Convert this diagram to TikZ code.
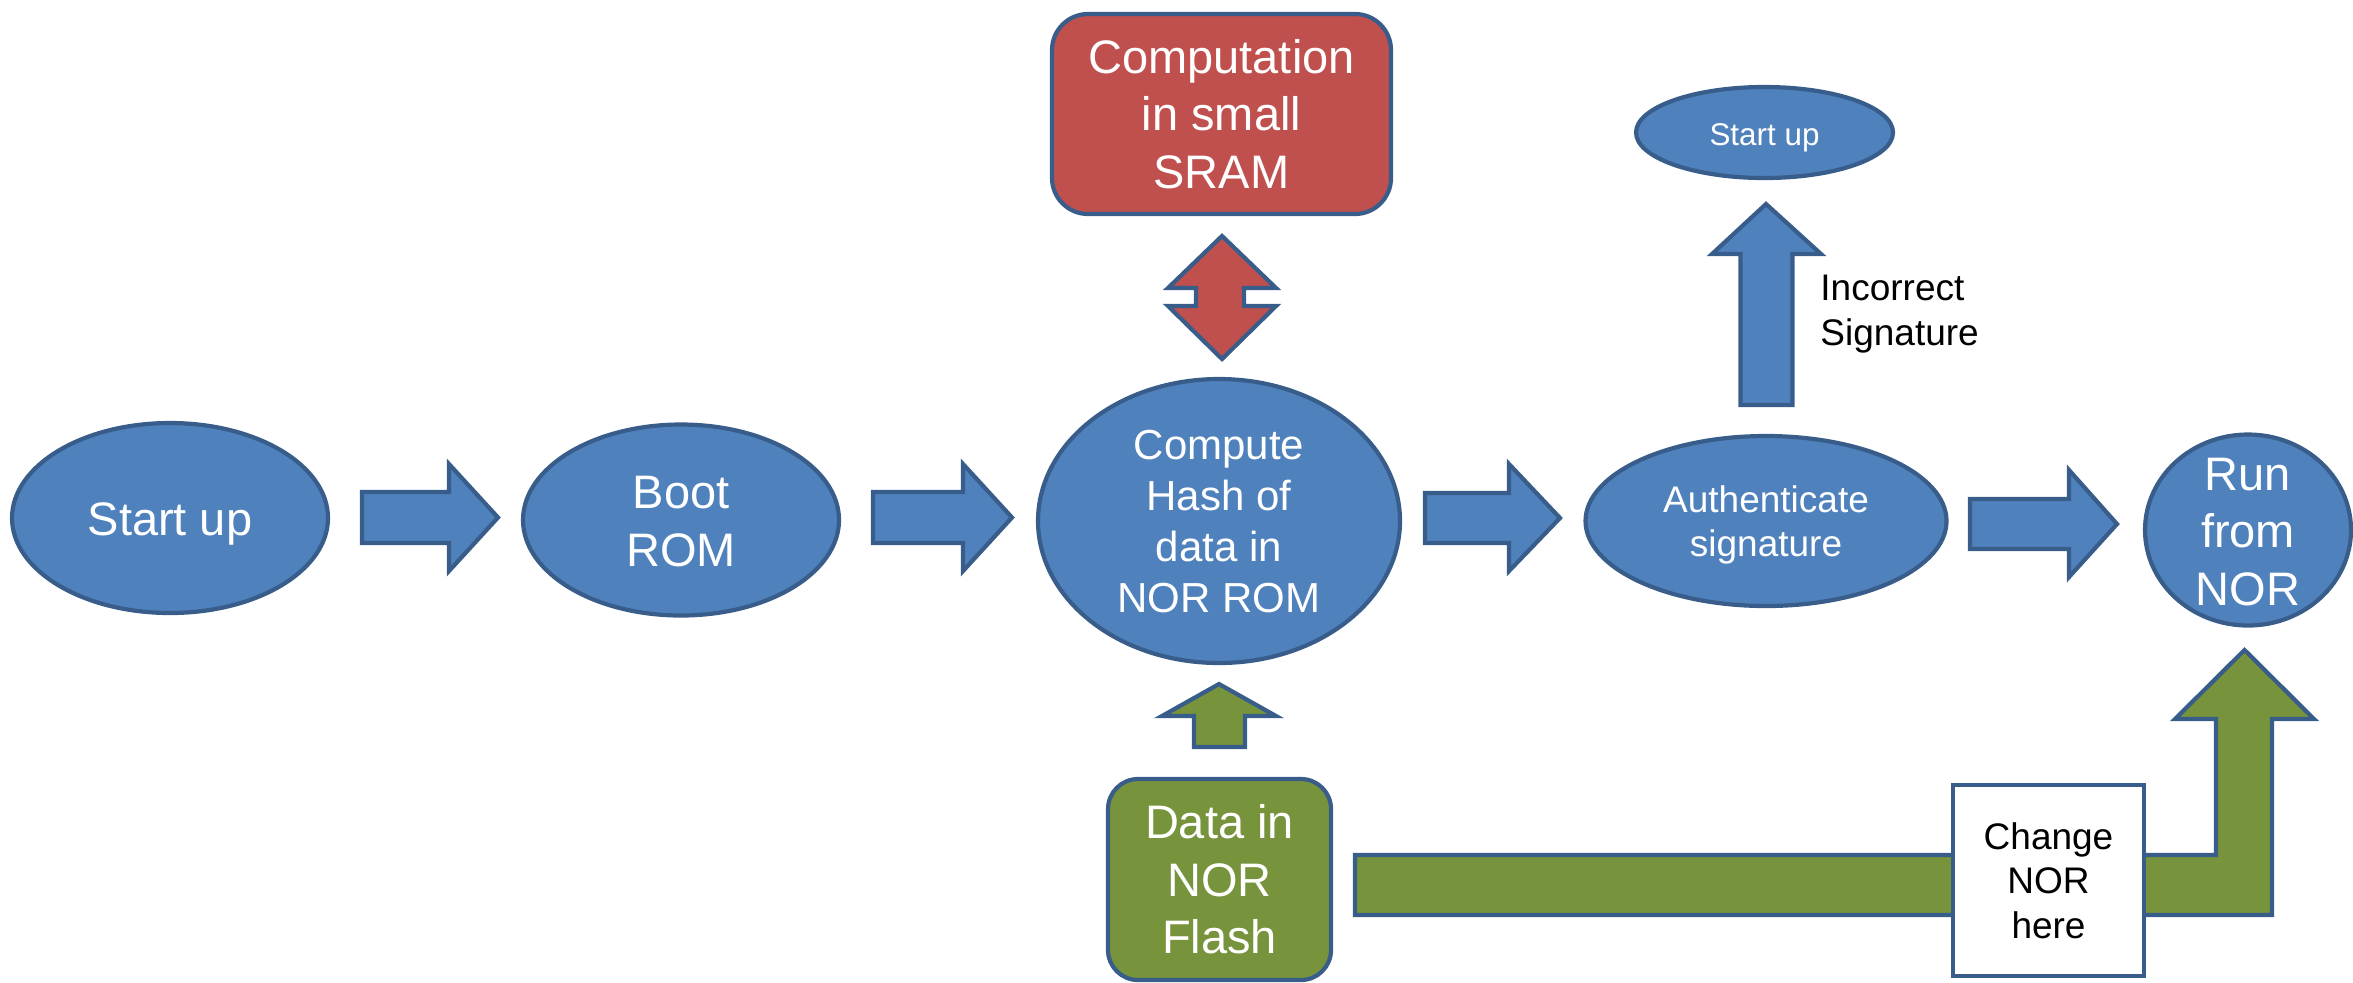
\documentclass[tikz,border=0pt]{standalone}
\usepackage{fontspec}
\setmainfont{Liberation Sans}
\usetikzlibrary{shapes.geometric}
\definecolor{boxblue}{HTML}{4F81BD}
\definecolor{edgeblue}{HTML}{385D8A}
\definecolor{boxred}{HTML}{C0504D}
\definecolor{boxgreen}{HTML}{77933C}

\begin{document}
\begin{tikzpicture}[x=0.5pt,y=-0.5pt,
  outline/.style={draw=edgeblue,line width=2.1pt},
  stage/.style={outline,ellipse,fill=boxblue,inner sep=0pt},
  panel/.style={outline,rectangle,inner sep=0pt,align=center},
  blockarrow/.style={outline,fill=boxblue},
  whitetext/.style={text=white,inner sep=0pt,align=center},
  bigfont/.style={font={\fontsize{23.5}{28.75}\selectfont}},
  hashfont/.style={font={\fontsize{21}{25.5}\selectfont}},
  midfont/.style={font={\fontsize{18.5}{22.25}\selectfont}},
  smallfont/.style={font={\fontsize{15.7}{19}\selectfont}}]

\useasboundingbox (0,0) rectangle (2353,982);

% ---- main flow: ellipses ----
\node[stage,minimum width=158pt,minimum height=95pt] (start) at (170,518) {};
\node[whitetext,bigfont] (start-t) at (170,524) {Start up};

\node[stage,minimum width=158pt,minimum height=95.5pt] (boot) at (681,520) {};
\node[whitetext,bigfont] (boot-t) at (681,521.5) {Boot\\ROM};

\node[stage,minimum width=181pt,minimum height=142pt] (hash) at (1219,521) {};
\node[whitetext,hashfont] (hash-t) at (1219,521.5) {Compute\\Hash of\\data in\\NOR ROM};

\node[stage,minimum width=180.5pt,minimum height=85pt] (auth) at (1766,521) {};
\node[whitetext,midfont] (auth-t) at (1766,525) {Authenticate\\signature};

\node[stage,minimum width=103pt,minimum height=95.5pt] (run) at (2248,530) {};
\node[whitetext,bigfont] (run-t) at (2248,532) {Run\\from\\NOR};

\node[stage,minimum width=128.5pt,minimum height=45.5pt] (restart) at (1764.5,132.5) {};
\node[whitetext,smallfont] (restart-t) at (1764.5,138) {Start up};

% ---- right-pointing block arrows along the flow ----
\draw[blockarrow] (362,492) -- (449,492) -- (449,464) -- (498,517.5) -- (449,571) -- (449,543) -- (362,543) -- cycle;
\draw[blockarrow] (873,492) -- (963,492) -- (963,464) -- (1012,517.5) -- (963,571) -- (963,543) -- (873,543) -- cycle;
\draw[blockarrow] (1425,493) -- (1509,493) -- (1509,464) -- (1560,518) -- (1509,571) -- (1509,543) -- (1425,543) -- cycle;
\draw[blockarrow] (1970,499) -- (2069,499) -- (2069,470) -- (2117,524) -- (2069,577) -- (2069,549) -- (1970,549) -- cycle;

% ---- failure branch back to start up ----
\draw[blockarrow] (1740.5,405) -- (1740.5,254) -- (1712,254) -- (1766,204) -- (1821,254) -- (1792.5,254) -- (1792.5,405) -- cycle;
\node[anchor=west,inner sep=0pt,align=left,midfont] (fail) at (1820,314) {Incorrect\\Signature};

% ---- SRAM exchange ----
\node[panel,fill=boxred,rounded corners=18pt,minimum width=169.5pt,minimum height=100pt,text=white,bigfont] (sram) at (1221.5,114) {Computation\\in small\\SRAM};
\draw[outline,fill=boxred] (1222,236) -- (1276,288) -- (1244,288) -- (1244,306) -- (1276,306) -- (1222,359) -- (1168,306) -- (1196,306) -- (1196,288) -- (1168,288) -- cycle;

% ---- NOR flash data paths ----
\draw[outline,fill=boxgreen] (1194,747) -- (1194,716) -- (1162,716) -- (1219,684) -- (1276,716) -- (1245,716) -- (1245,747) -- cycle;
\draw[outline,fill=boxgreen] (1355,855) -- (2216,855) -- (2216,719) -- (2175,719) -- (2244.5,650) -- (2314,719) -- (2272,719) -- (2272,915) -- (1355,915) -- cycle;

\node[panel,fill=boxgreen,rounded corners=15pt,minimum width=111.5pt,minimum height=100.5pt,text=white,bigfont] (flash) at (1219.5,879.5) {Data in\\NOR\\Flash};
\node[panel,fill=white,minimum width=95.5pt,minimum height=95.5pt,midfont] (change) at (2048.5,880.5) {Change\\NOR\\here};
\end{tikzpicture}
\end{document}
